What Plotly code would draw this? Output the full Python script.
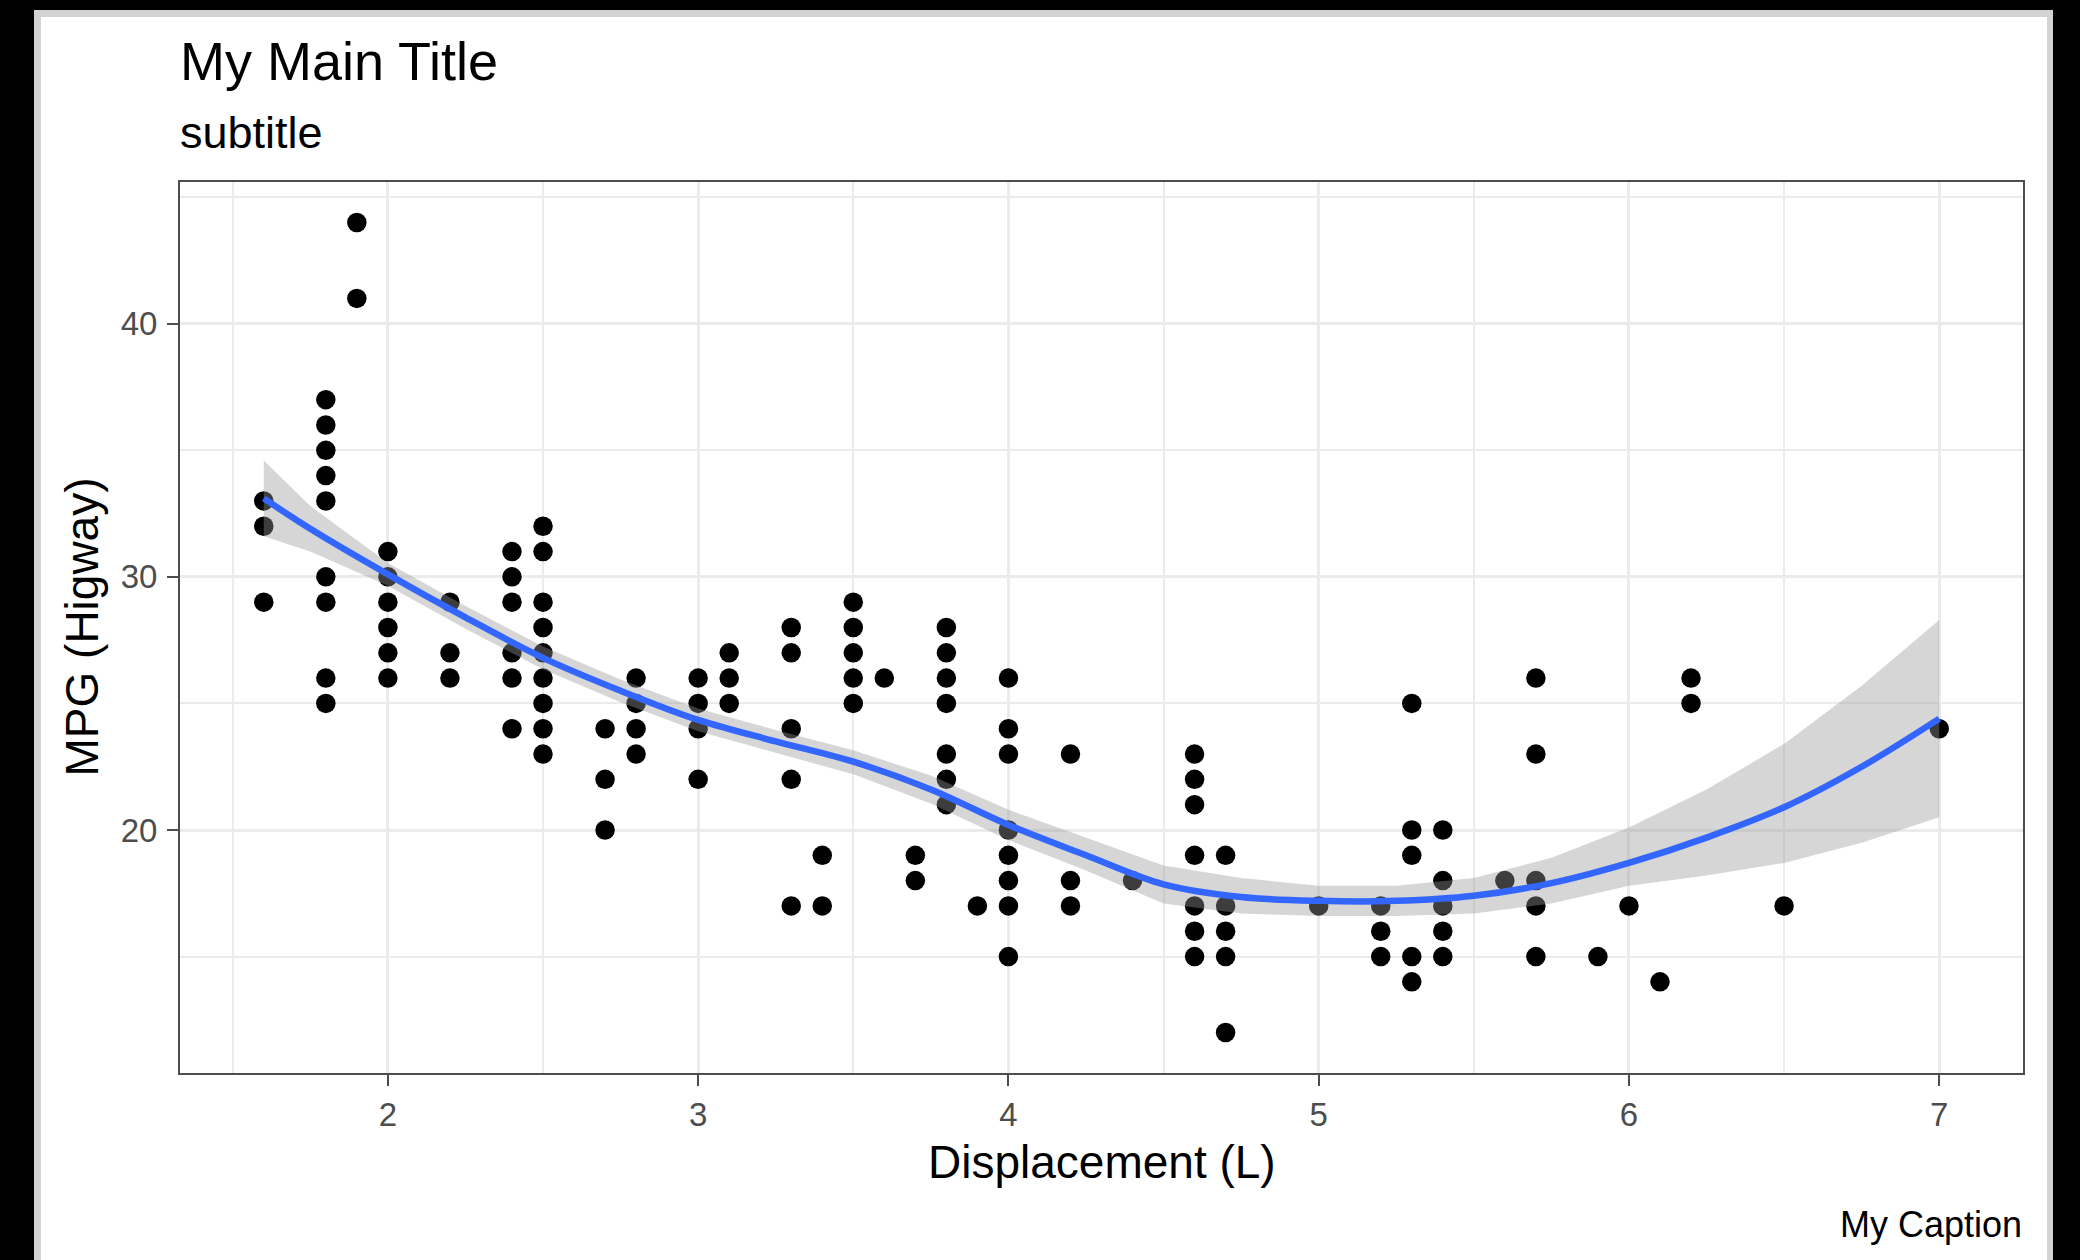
import plotly.graph_objects as go

# ---------------- data ----------------
displ_groups = [1.6, 1.8, 1.9, 2.0, 2.2, 2.4, 2.5, 2.7, 2.8, 3.0, 3.1, 3.3, 3.4, 3.5, 3.6,
                3.7, 3.8, 3.9, 4.0, 4.2, 4.4, 4.6, 4.7, 5.0, 5.2, 5.3, 5.4, 5.6, 5.7,
                5.9, 6.0, 6.1, 6.2, 6.5, 7.0]
hwy_groups = [
    [33, 32, 29],
    [37, 36, 35, 34, 33, 30, 29, 26, 25],
    [44, 41],
    [31, 30, 29, 28, 27, 26],
    [29, 27, 26],
    [31, 30, 29, 27, 26, 24],
    [32, 31, 29, 28, 27, 26, 25, 24, 23],
    [24, 22, 20],
    [26, 25, 24, 23],
    [26, 25, 24, 22],
    [27, 26, 25],
    [28, 27, 24, 22, 17],
    [19, 17],
    [29, 28, 27, 26, 25],
    [26],
    [19, 18],
    [28, 27, 26, 25, 23, 22, 21],
    [17],
    [26, 24, 23, 20, 19, 18, 17, 15],
    [23, 18, 17],
    [18],
    [23, 22, 21, 19, 17, 16, 15],
    [19, 17, 16, 15, 12],
    [17],
    [17, 16, 15],
    [25, 20, 19, 15, 14],
    [20, 18, 17, 16, 15],
    [18],
    [26, 23, 18, 17, 15],
    [15],
    [17],
    [14],
    [26, 25],
    [17],
    [24],
]

smooth_x = [1.6, 1.75, 2.0, 2.25, 2.5, 2.75, 3.0, 3.25, 3.5, 3.75, 4.0, 4.25, 4.5, 4.75,
            5.0, 5.25, 5.5, 5.75, 6.0, 6.25, 6.5, 6.75, 7.0]
smooth_fit = [33.1, 31.9, 30.1, 28.4, 26.8, 25.5, 24.35, 23.5, 22.7, 21.6, 20.2, 19.0,
              17.85, 17.35, 17.2, 17.2, 17.4, 17.9, 18.7, 19.7, 20.9, 22.5, 24.4]
smooth_lo = [31.6, 31.0, 29.65, 27.95, 26.35, 25.05, 23.9, 23.05, 22.2, 21.05, 19.6, 18.4,
             17.1, 16.7, 16.6, 16.6, 16.7, 17.1, 17.8, 18.2, 18.7, 19.5, 20.5]
smooth_hi = [34.6, 32.8, 30.55, 28.85, 27.25, 25.95, 24.8, 23.95, 23.15, 22.15, 20.8, 19.7,
             18.6, 18.1, 17.8, 17.8, 18.1, 18.9, 20.1, 21.6, 23.4, 25.7, 28.3]

x_ticks = [2, 3, 4, 5, 6, 7]
y_ticks = [20, 30, 40]

title_text = "My Main Title"
subtitle_text = "subtitle"
caption_text = "My Caption"
x_title = "Displacement (L)"
y_title = "MPG (Higway)"

# ---------------- build ----------------
displ = [d for d, g in zip(displ_groups, hwy_groups) for _ in g]
hwy = [v for g in hwy_groups for v in g]

W, H = 2080, 1260
ML, MR, MT, MB = 180, 57, 182, 187
PW, PH = W - ML - MR, H - MT - MB


def px2x(px):
    return (px - ML) / PW


def py2y(py):
    return (H - MB - py) / PH


FONT = "Liberation Sans, Arial, Helvetica, sans-serif"

fig = go.Figure()
fig.add_trace(go.Scatter(x=displ, y=hwy, mode="markers",
                         marker=dict(color="black", size=19.5, line=dict(width=0)),
                         showlegend=False, hoverinfo="skip"))
fig.add_trace(go.Scatter(x=smooth_x + smooth_x[::-1], y=smooth_hi + smooth_lo[::-1],
                         mode="lines", fill="toself",
                         fillcolor="rgba(153,153,153,0.4)", line=dict(width=0),
                         showlegend=False, hoverinfo="skip"))
fig.add_trace(go.Scatter(x=smooth_x, y=smooth_fit, mode="lines",
                         line=dict(color="#3366FF", width=6.5, shape="spline", smoothing=1.0),
                         showlegend=False, hoverinfo="skip"))

axis_common = dict(showline=True, mirror=True, linecolor="#4d4d4d", linewidth=2,
                   ticks="outside", ticklen=11, tickwidth=2, tickcolor="#4d4d4d",
                   showgrid=True, gridcolor="#EBEBEB", gridwidth=3, zeroline=False,
                   tickfont=dict(family=FONT, size=33, color="#4D4D4D"))

fig.update_xaxes(range=[1.33, 7.27], tickvals=x_ticks, ticktext=[str(t) for t in x_ticks],
                 minor=dict(dtick=0.5, tick0=1.5, showgrid=True, gridcolor="#EBEBEB",
                            gridwidth=1.8, ticks=""),
                 ticklabelstandoff=0, **axis_common)
fig.update_yaxes(range=[10.4, 45.6], tickvals=y_ticks, ticktext=[str(t) for t in y_ticks],
                 minor=dict(dtick=5, tick0=15, showgrid=True, gridcolor="#EBEBEB",
                            gridwidth=1.8, ticks=""),
                 ticklabelstandoff=3, **axis_common)

shapes = [
    dict(type="rect", xref="paper", yref="paper", layer="below",
         x0=px2x(34), x1=px2x(2053), y0=py2y(1275), y1=py2y(10),
         fillcolor="#D3D3D3", line=dict(width=0)),
    dict(type="rect", xref="paper", yref="paper", layer="below",
         x0=px2x(41), x1=px2x(2047), y0=py2y(1275), y1=py2y(17),
         fillcolor="white", line=dict(width=0)),
]

annotations = [
    dict(text=title_text, xref="paper", yref="paper", x=px2x(178), y=py2y(61),
         xanchor="left", yanchor="middle", showarrow=False,
         font=dict(family=FONT, size=54, color="black")),
    dict(text=subtitle_text, xref="paper", yref="paper", x=px2x(178), y=py2y(133),
         xanchor="left", yanchor="middle", showarrow=False,
         font=dict(family=FONT, size=45, color="black")),
    dict(text=caption_text, xref="paper", yref="paper", x=px2x(2024), y=py2y(1224),
         xanchor="right", yanchor="middle", showarrow=False,
         font=dict(family=FONT, size=36, color="black")),
    dict(text=x_title, xref="paper", yref="paper", x=0.5, y=py2y(1162),
         xanchor="center", yanchor="middle", showarrow=False,
         font=dict(family=FONT, size=46, color="black")),
    dict(text=y_title, xref="paper", yref="paper", x=px2x(81), y=0.5, textangle=-90,
         xanchor="center", yanchor="middle", showarrow=False,
         font=dict(family=FONT, size=46, color="black")),
]

fig.update_layout(width=W, height=H, margin=dict(l=ML, r=MR, t=MT, b=MB, pad=0),
                  paper_bgcolor="black", plot_bgcolor="white",
                  shapes=shapes, annotations=annotations, showlegend=False,
                  font=dict(family=FONT))

fig.write_html("out.html")
